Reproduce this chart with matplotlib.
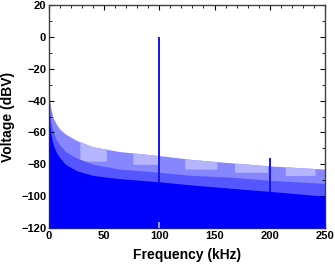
import numpy as np
import matplotlib
matplotlib.use("Agg")
import matplotlib.pyplot as plt

plt.rcParams['font.family'] = ['Liberation Sans', 'DejaVu Sans']
plt.rcParams['font.weight'] = 'bold'

# spectrum envelope (top of the noise floor)
freq = [0, 0.5, 1, 2, 4, 7, 10, 15, 25, 40, 64, 100, 130, 164, 200, 250]
top_db = [-30, -38, -42, -46, -51, -55, -58, -61, -65, -69, -72, -74.5, -77, -79, -81, -83]
mid_db = [-34, -44, -49, -54, -60, -65, -68, -72, -76, -80, -83, -85, -87, -88, -90, -92]
low_db = [-38, -50, -56, -62, -68, -73, -76, -80, -84, -87, -89, -91, -93, -95, -97, -100]

# lighter patches near the top of the floor (start, end, bottom in dBV)
patch_start = [28, 76, 123, 168, 214]
patch_end = [52, 100, 152, 198, 241]
patch_bottom = [-78, -80, -83, -85, -87]

# tones
tone_freq = [100, 200]
tone_db = [0, -76]

floor_db = -120

fig = plt.figure(figsize=(3.35, 2.67), dpi=100)
ax = fig.add_axes([0.146, 0.146, 0.824, 0.835])

ax.fill_between(freq, floor_db, top_db, color='#8686ff', lw=0, zorder=1)
for s, e, b in zip(patch_start, patch_end, patch_bottom):
    xs = [f for f in freq if s < f < e]
    px = [s] + xs + [e]
    pt = np.interp(px, freq, top_db)
    ax.fill_between(px, b, pt, color='#b4b4ff', lw=0, zorder=1)
ax.fill_between(freq, floor_db, mid_db, color='#5656ff', lw=0, zorder=1)

# tones sit under the solid part of the floor
ax.vlines(tone_freq, floor_db, tone_db, color='#1414f0', lw=1.4, zorder=2)
ax.fill_between(freq, floor_db, low_db, color='#0000ff', lw=0, zorder=3)
ax.vlines(tone_freq[0], floor_db, floor_db + 4, color='#b8b8ff', lw=1.2, zorder=4)

ax.set_xlim(0, 250)
ax.set_ylim(-120, 20)
ax.set_xticks(np.arange(0, 251, 50))
ax.set_xticks(np.arange(0, 251, 10), minor=True)
ax.set_yticks(np.arange(-120, 21, 20))
ax.set_yticks(np.arange(-120, 21, 10), minor=True)
ax.tick_params(which='both', direction='in', top=True, right=True, labelsize=8, pad=2)
ax.tick_params(which='major', length=3.5, width=0.8)
ax.tick_params(which='minor', length=2, width=0.6)
for sp in ax.spines.values():
    sp.set_color('#404040')
    sp.set_linewidth(1.0)

ax.set_xlabel('Frequency (kHz)', fontsize=10, fontweight='bold', labelpad=5)
ax.set_ylabel('Voltage (dBV)', fontsize=10, fontweight='bold', labelpad=4)

fig.savefig('out.png', dpi=100)
